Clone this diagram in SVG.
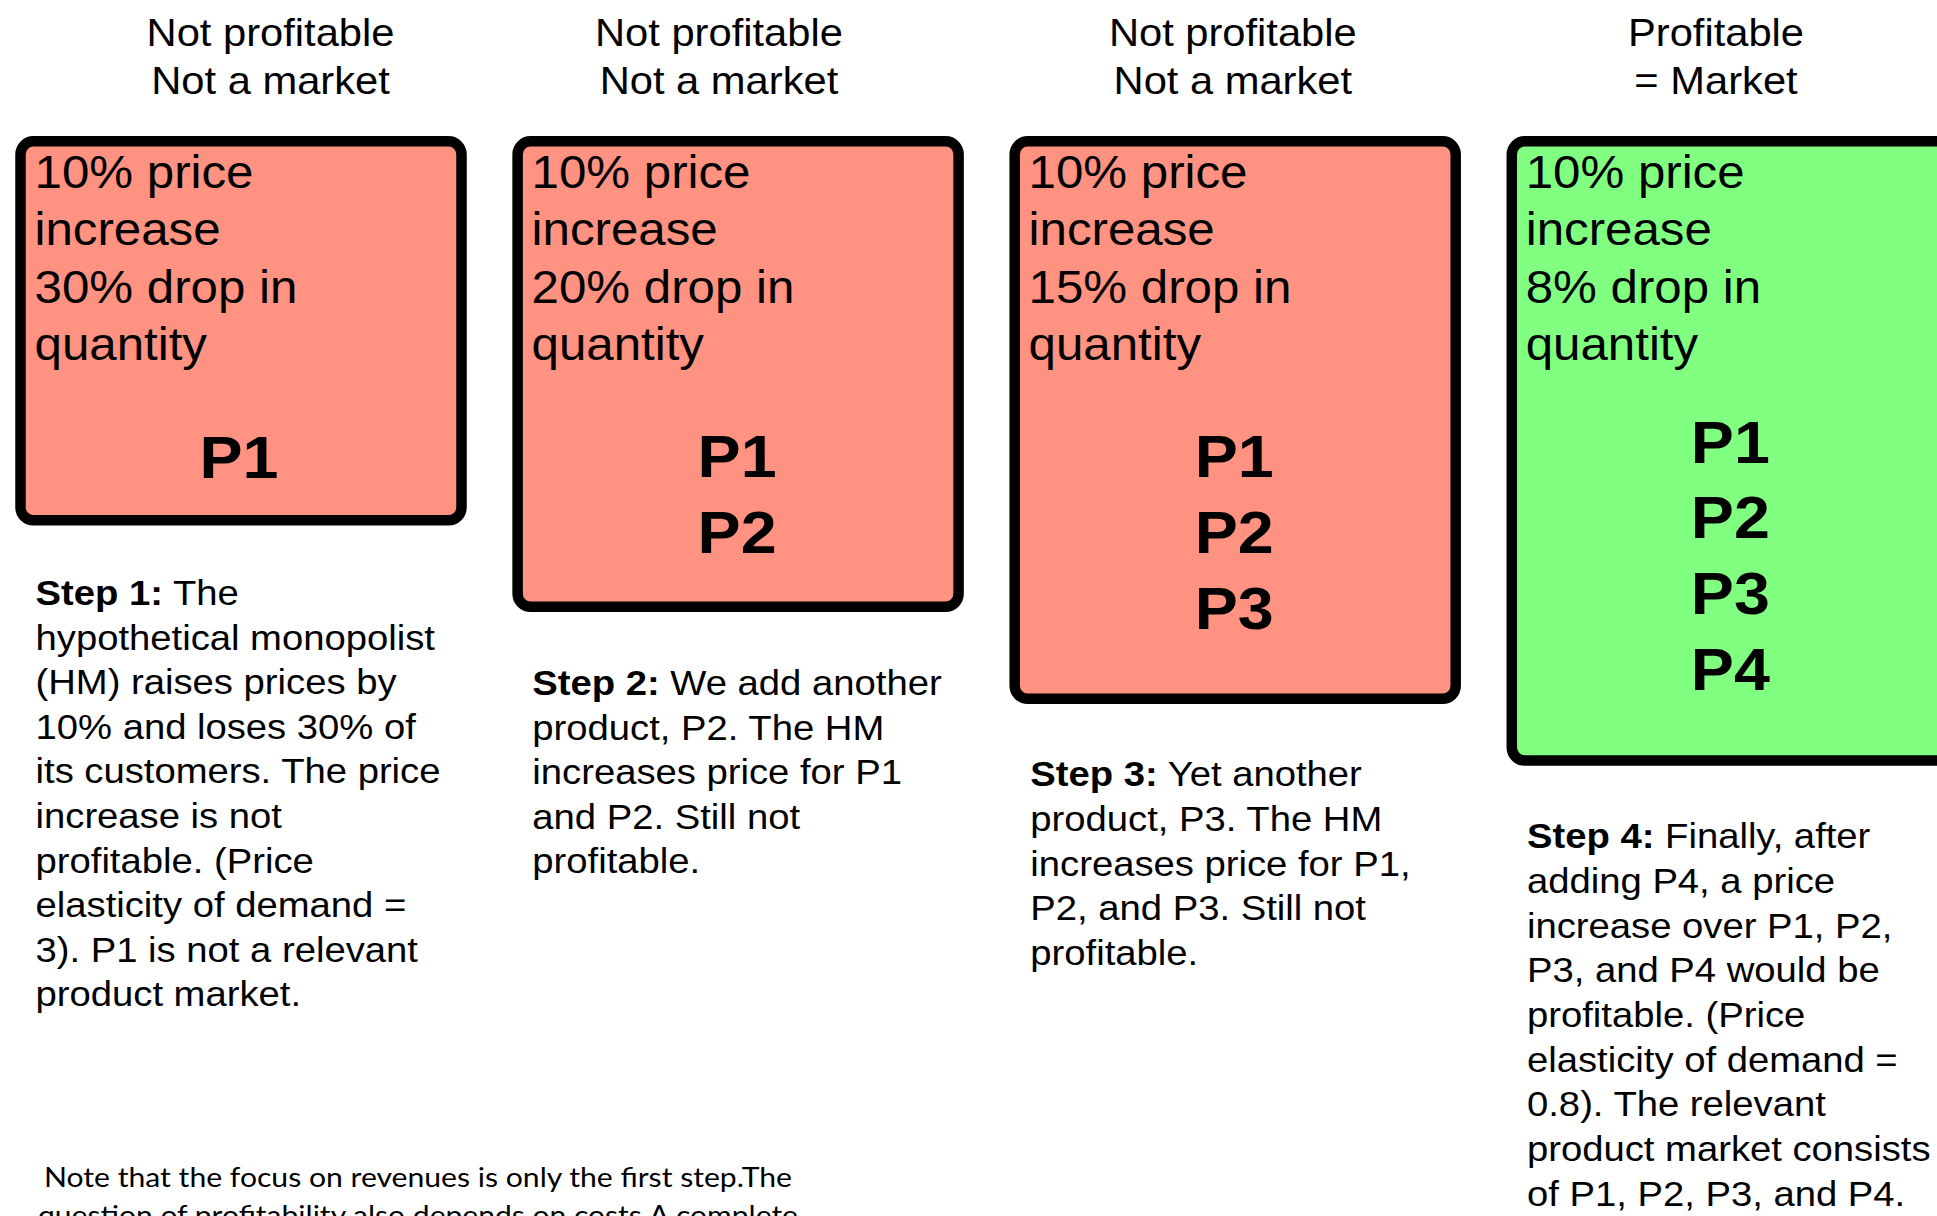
<svg xmlns="http://www.w3.org/2000/svg" width="1937" height="1216" viewBox="0 0 1937 1216">
  <style>
    text { font-family: "Liberation Sans", Arial, Helvetica, sans-serif; fill: #000; }
    .hdr { font-size: 38.6px; text-anchor: middle; }
    .box { stroke: #000; stroke-width: 10.5; }
    .red { fill: #FF9280; }
    .green { fill: #80FF80; }
    .bt { font-size: 45.6px; }
    .p { font-size: 59.8px; font-weight: bold; text-anchor: middle; }
    .body { font-size: 35.4px; }
    .b { font-weight: bold; }
    .note { font-family: "Lato", "Open Sans", sans-serif; font-size: 27px; }
  </style>
  <rect width="1937" height="1216" fill="#FFFFFF"/>
  <g id="connectors"/>

  <g id="step1">
    <rect class="box red" x="20.5" y="141.3" width="441" height="379" rx="13"/>
    <g transform="scale(1.08 1)">
      <text class="hdr" x="250.5" y="46">Not profitable</text>
      <text class="hdr" x="250.5" y="94">Not a market</text>
      <text class="bt" x="32" y="188">10% price</text>
      <text class="bt" x="32" y="245.5">increase</text>
      <text class="bt" x="32" y="303">30% drop in</text>
      <text class="bt" x="32" y="360.5">quantity</text>
      <text class="p" x="221.3" y="478">P1</text>
      <text class="body" x="32.9" y="605"><tspan class="b">Step 1:</tspan> The</text>
      <text class="body" x="32.9" y="649.6">hypothetical monopolist</text>
      <text class="body" x="32.9" y="694.2">(HM) raises prices by</text>
      <text class="body" x="32.9" y="738.8">10% and loses 30% of</text>
      <text class="body" x="32.9" y="783.4">its customers. The price</text>
      <text class="body" x="32.9" y="828">increase is not</text>
      <text class="body" x="32.9" y="872.6">profitable. (Price</text>
      <text class="body" x="32.9" y="917.2">elasticity of demand =</text>
      <text class="body" x="32.9" y="961.8">3). P1 is not a relevant</text>
      <text class="body" x="32.9" y="1006.4">product market.</text>
    </g>
  </g>

  <g id="step2">
    <rect class="box red" x="517.6" y="141.3" width="441" height="465.5" rx="13"/>
    <g transform="scale(1.08 1)">
      <text class="hdr" x="665.7" y="46">Not profitable</text>
      <text class="hdr" x="665.7" y="94">Not a market</text>
      <text class="bt" x="492.2" y="188">10% price</text>
      <text class="bt" x="492.2" y="245.5">increase</text>
      <text class="bt" x="492.2" y="303">20% drop in</text>
      <text class="bt" x="492.2" y="360.5">quantity</text>
      <text class="p" x="682.5" y="477">P1</text>
      <text class="p" x="682.5" y="552.6">P2</text>
      <text class="body" x="492.9" y="695"><tspan class="b">Step 2:</tspan> We add another</text>
      <text class="body" x="492.9" y="739.6">product, P2. The HM</text>
      <text class="body" x="492.9" y="784.2">increases price for P1</text>
      <text class="body" x="492.9" y="828.8">and P2. Still not</text>
      <text class="body" x="492.9" y="873.4">profitable.</text>
    </g>
  </g>

  <g id="step3">
    <rect class="box red" x="1014.7" y="141.3" width="441" height="557.5" rx="13"/>
    <g transform="scale(1.08 1)">
      <text class="hdr" x="1141.5" y="46">Not profitable</text>
      <text class="hdr" x="1141.5" y="94">Not a market</text>
      <text class="bt" x="952.4" y="188">10% price</text>
      <text class="bt" x="952.4" y="245.5">increase</text>
      <text class="bt" x="952.4" y="303">15% drop in</text>
      <text class="bt" x="952.4" y="360.5">quantity</text>
      <text class="p" x="1142.8" y="477.5">P1</text>
      <text class="p" x="1142.8" y="553.2">P2</text>
      <text class="p" x="1142.8" y="628.9">P3</text>
      <text class="body" x="954" y="786.5"><tspan class="b">Step 3:</tspan> Yet another</text>
      <text class="body" x="954" y="831.1">product, P3. The HM</text>
      <text class="body" x="954" y="875.7">increases price for P1,</text>
      <text class="body" x="954" y="920.3">P2, and P3. Still not</text>
      <text class="body" x="954" y="964.9">profitable.</text>
    </g>
  </g>

  <g id="step4">
    <rect class="box green" x="1511.8" y="141.3" width="441" height="619.3" rx="13"/>
    <g transform="scale(1.08 1)">
      <text class="hdr" x="1588.9" y="46">Profitable</text>
      <text class="hdr" x="1588.9" y="94">= Market</text>
      <text class="bt" x="1412.7" y="188">10% price</text>
      <text class="bt" x="1412.7" y="245.5">increase</text>
      <text class="bt" x="1412.7" y="303">8% drop in</text>
      <text class="bt" x="1412.7" y="360.5">quantity</text>
      <text class="p" x="1602.2" y="462.7">P1</text>
      <text class="p" x="1602.2" y="538.4">P2</text>
      <text class="p" x="1602.2" y="614.1">P3</text>
      <text class="p" x="1602.2" y="689.8">P4</text>
      <text class="body" x="1413.9" y="848.3"><tspan class="b">Step 4:</tspan> Finally, after</text>
      <text class="body" x="1413.9" y="893">adding P4, a price</text>
      <text class="body" x="1413.9" y="937.7">increase over P1, P2,</text>
      <text class="body" x="1413.9" y="982.4">P3, and P4 would be</text>
      <text class="body" x="1413.9" y="1027.1">profitable. (Price</text>
      <text class="body" x="1413.9" y="1071.8">elasticity of demand =</text>
      <text class="body" x="1413.9" y="1116.5">0.8). The relevant</text>
      <text class="body" x="1413.9" y="1161.2">product market consists</text>
      <text class="body" x="1413.9" y="1205.9">of P1, P2, P3, and P4.</text>
    </g>
  </g>

  <g id="note">
    <text class="note" x="44" y="1187.3" textLength="748" lengthAdjust="spacingAndGlyphs">Note that the focus on revenues is only the first step.The</text>
    <text class="note" x="38" y="1225" textLength="760" lengthAdjust="spacingAndGlyphs">question of profitability also depends on costs.A complete</text>
  </g>
</svg>
